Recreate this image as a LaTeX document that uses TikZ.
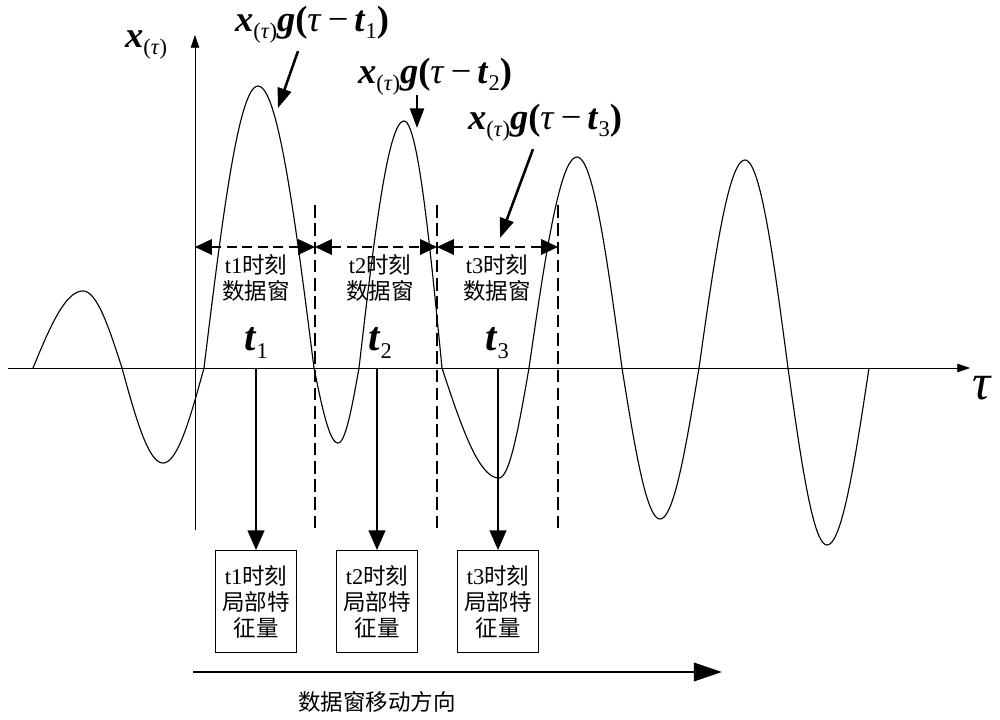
\documentclass[tikz,border=0pt]{standalone}
\usepackage{fontspec}
\setmainfont{Liberation Serif}
\newfontfamily\cjk{Noto Sans CJK SC}
\usetikzlibrary{positioning,calc,arrows.meta}
\newcommand{\lowsub}[1]{\raisebox{-0.4ex}{\fontsize{16}{16}\selectfont #1}}
\newcommand{\bi}[1]{\textbf{\textit{#1}}}
\newcommand{\xtau}{\bi{x}\lowsub{(\textit{τ})}}
\newcommand{\gwin}[1]{\xtau\bi{g}\textbf{(}\textit{τ}\,−\,\bi{t}\lowsub{#1}\textbf{)}}

\begin{document}
\begin{tikzpicture}[x=0.025cm, y=-0.025cm,
  wave/.style={line width=0.8pt, line join=round},
  axis/.style={line width=0.5pt, -{Triangle[length=9pt,width=6pt]}},
  winline/.style={line width=0.9pt, dash pattern=on 9pt off 4pt},
  winarrow/.style={line width=1.3pt, dash pattern=on 7pt off 4pt,
    {Triangle[length=12pt,width=11pt]}-{Triangle[length=12pt,width=11pt]}},
  callout/.style={line width=1.8pt, -{Triangle[length=14pt,width=10pt]}},
  down/.style={line width=1.2pt, -{Triangle[length=14pt,width=12pt]}},
  move/.style={line width=2pt, -{Triangle[length=20pt,width=13pt]}},
  featbox/.style={draw, line width=0.6pt, minimum width=2.03cm, minimum height=2.55cm, inner sep=0pt},
  cjktext/.style={font=\fontsize{16}{18.5}\selectfont, align=center},
  mathlbl/.style={font=\fontsize{26}{30}\selectfont, inner sep=1pt},
  tlbl/.style={font=\fontsize{29}{32}\selectfont, inner sep=1pt}
]
\useasboundingbox (0,0) rectangle (1000,720);

% axes
\coordinate (ybot) at (195,530);
\coordinate (ytop) at (195,35);
\coordinate (xl) at (8,368);
\coordinate (xr) at (970,368);
\draw[axis] (ybot) -- (ytop);
\draw[axis] (xl) -- (xr);
\node[mathlbl] (ylbl) at (146,45) {\xtau};
\node[font=\fontsize{36}{36}\selectfont] (taulbl) at (982,388) {\textit{τ}};

% signal
\foreach \a/\c/\b/\A in {33/83/122/77, 122/163/204/-95, 204/258/314/282, 314/338/359/-75,
    359/404/442/247, 442/499/529/-110, 529/577/622/211, 622/660/699/-151,
    699/745/788/208, 788/827/869/-177}
  \draw[wave] plot[domain=\a:\c, samples=25] (\x, {368-\A*sin(90*(\x-\a)/(\c-\a))})
    -- plot[domain=\c:\b, samples=25] (\x, {368-\A*cos(90*(\x-\c)/(\b-\c))});

% windows
\foreach \x in {315,437,558}
  \draw[winline] (\x,205) -- (\x,530);
\foreach \i/\x in {0/195, 1/315, 2/437, 3/558}
  \coordinate (w\i) at (\x,247);
\draw[winarrow] (w0) -- (w1);
\draw[winarrow] (w1) -- (w2);
\draw[winarrow] (w2) -- (w3);

% callouts
\node[mathlbl] (g1) at (312,25) {\gwin{1}};
\node[mathlbl] (g2) at (435,77) {\gwin{2}};
\node[mathlbl] (g3) at (545,123) {\gwin{3}};
\coordinate (p1) at (278,108);
\coordinate (p2) at (417,128);
\coordinate (p3) at (500,238);
\draw[callout] ($(g1.south)+(-14,6)$) -- (p1);
\draw[callout] ($(g2.south)+(-18,-2)$) -- (p2);
\draw[callout] ($(g3.south)+(-12,6)$) -- (p3);

% features per window
\foreach \i/\x/\lx in {1/256/256, 2/377/380, 3/498/497} {
  \node[cjktext] (win\i) at (\lx,278) {t\i{\cjk 时刻}\\{\cjk 数据窗}};
  \node[tlbl] (t\i) at (\lx,343) {\bi{t}\lowsub{\i}};
  \coordinate (a\i) at (\x,368);
  \node[featbox, anchor=north] (box\i) at (\x,550) {};
  \node[cjktext] (feat\i) at (box\i.center) {t\i{\cjk 时刻}\\{\cjk 局部特}\\{\cjk 征量}};
  \draw[down] (a\i) -- (box\i.north);
}

% moving direction
\coordinate (m0) at (193,672);
\coordinate (m1) at (722,672);
\draw[move] (m0) -- (m1);
\node[cjktext] (movelbl) at (377,702) {{\cjk 数据窗移动方向}};
\end{tikzpicture}
\end{document}
